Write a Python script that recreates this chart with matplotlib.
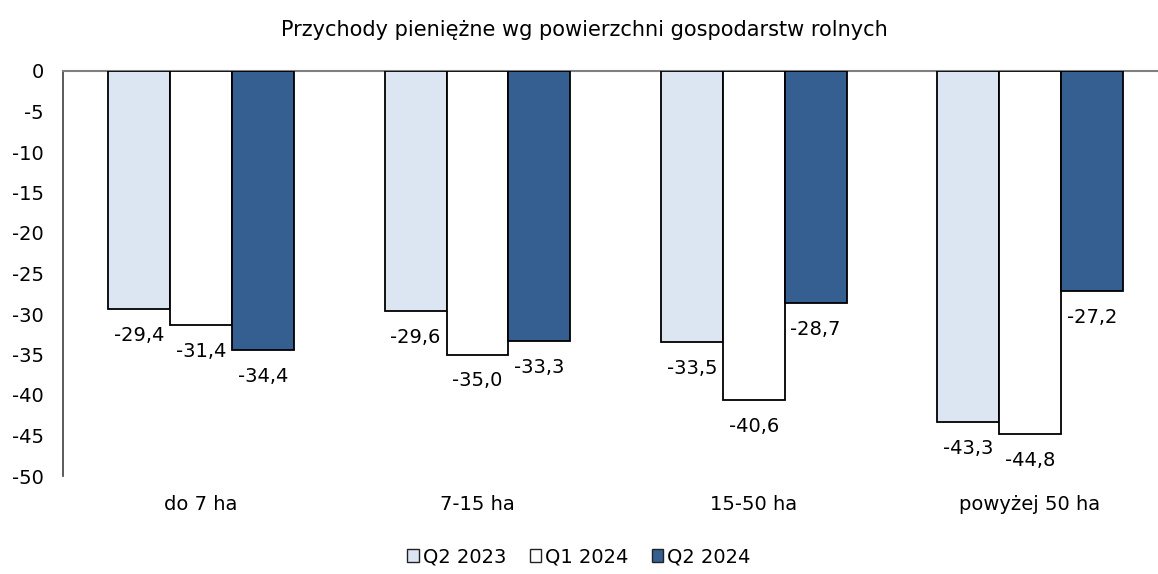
import matplotlib.pyplot as plt
import numpy as np
from matplotlib.patches import Patch

categories = ["do 7 ha", "7-15 ha", "15-50 ha", "powyżej 50 ha"]
series_names = ["Q2 2023", "Q1 2024", "Q2 2024"]
q2_2023 = [-29.4, -29.6, -33.5, -43.3]
q1_2024 = [-31.4, -35.0, -40.6, -44.8]
q2_2024 = [-34.4, -33.3, -28.7, -27.2]

COLORS = ["#dce6f2", "#ffffff", "#355f91"]
TITLE = "Przychody pieniężne wg powierzchni gospodarstw rolnych"

plt.rcParams["font.family"] = "DejaVu Sans"

fig = plt.figure(figsize=(11.58, 5.74), dpi=100)
ax = fig.add_axes([63 / 1158, 98 / 574, 1 - 63 / 1158, 405 / 574])

x = np.arange(len(categories))
width = 0.224
for i, (vals, color) in enumerate(zip([q2_2023, q1_2024, q2_2024], COLORS)):
    pos = x + (i - 1) * width
    ax.bar(pos, vals, width, color=color, edgecolor="black", linewidth=1.3, zorder=3)
    for xp, v in zip(pos, vals):
        ax.annotate(f"{v:.1f}".replace(".", ","), (xp, v), xytext=(0, -19),
                    textcoords="offset points", ha="center", va="center", fontsize=14)

ax.set_ylim(-50, 0)
ax.set_xlim(-0.5, -0.5 + (1158 - 63) / 276.3)
ax.set_yticks(range(-50, 1, 5))
ax.set_yticklabels([str(t) for t in range(-50, 1, 5)], fontsize=14)
ax.set_xticks(x)
ax.set_xticklabels(categories, fontsize=14)
ax.tick_params(axis="y", length=0, pad=14)
ax.tick_params(axis="x", length=0, pad=14)

for s in ["right", "bottom"]:
    ax.spines[s].set_visible(False)
ax.spines["top"].set_color("#808080")
ax.spines["top"].set_linewidth(1.5)
ax.spines["left"].set_color("#404040")
ax.spines["left"].set_linewidth(1.2)

fig.text(0.505, 1 - 30 / 574, TITLE, ha="center", va="center", fontsize=15)

handles = [Patch(facecolor=c, edgecolor="#222222", linewidth=1) for c in COLORS]
fig.legend(handles, series_names, loc="center", bbox_to_anchor=(0.5, 1 - 557 / 574),
           ncol=3, frameon=False, fontsize=14, handlelength=0.6, handleheight=0.6,
           handletextpad=0.2, columnspacing=1.2)

fig.savefig("out.png", dpi=100)
